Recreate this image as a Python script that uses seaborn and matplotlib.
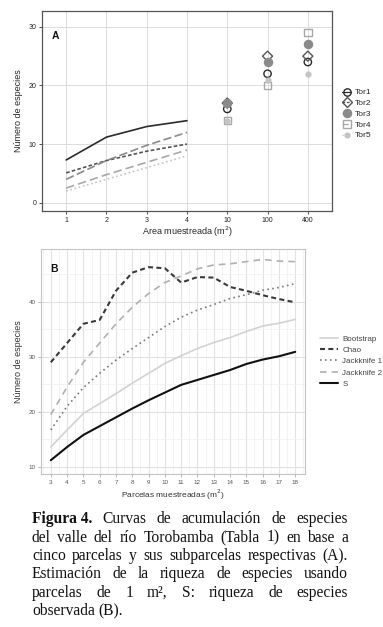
import numpy as np
import pandas as pd
import matplotlib
matplotlib.use('Agg')
import matplotlib.pyplot as plt
import seaborn as sns
from matplotlib.lines import Line2D

sns.set_style('white')
plt.rcParams['font.family'] = ['Liberation Sans', 'DejaVu Sans']

# ---- panel A data: species vs sampled area ----
area_labels = ['1', '2', '3', '4', '10', '100', '400']
parcelas = ['Tor1', 'Tor2', 'Tor3', 'Tor4', 'Tor5']
tor1 = [7.3, 11.2, 13.0, 14.0, 16, 22, 24]
tor2 = [5.1, 7.2, 8.8, 10.0, 17, 25, 25]
tor3 = [4.0, 7.2, 9.8, 12.0, 17, 24, 27]
tor4 = [2.5, 4.8, 6.9, 9.0, 14, 20, 29]
tor5 = [2.0, 4.0, 6.0, 8.0, 14, 21, 22]

# ---- panel B data: estimators vs number of plots ----
n_parcelas = list(range(3, 19))
estimadores = ['Bootstrap', 'Chao', 'Jackknife 1', 'Jackknife 2', 'S']
bootstrap = [13.6, 16.7, 19.7, 21.5, 23.3, 25.2, 27.0, 28.8, 30.2, 31.5, 32.6, 33.5, 34.6, 35.6, 36.1, 36.8]
chao = [29.0, 32.5, 36.0, 36.7, 42.0, 45.3, 46.3, 46.1, 43.5, 44.5, 44.4, 42.7, 42.0, 41.2, 40.5, 39.9]
jack1 = [16.7, 21.0, 24.4, 27.0, 29.4, 31.5, 33.5, 35.5, 37.2, 38.5, 39.5, 40.6, 41.3, 42.1, 42.6, 43.3]
jack2 = [19.5, 24.5, 29.0, 32.5, 36.0, 39.0, 41.5, 43.5, 44.7, 46.0, 46.7, 46.9, 47.3, 47.7, 47.4, 47.3]
s_obs = [11.2, 13.6, 15.8, 17.4, 19.0, 20.6, 22.1, 23.5, 24.9, 25.8, 26.7, 27.6, 28.7, 29.5, 30.1, 30.9]

caption_lines = [
    [('Figura 4.', True), ('Curvas', False), ('de', False), ('acumulación', False), ('de', False), ('especies', False)],
    [(w, False) for w in 'del valle del río Torobamba (Tabla 1) en base a'.split()],
    [(w, False) for w in 'cinco parcelas y sus subparcelas respectivas (A).'.split()],
    [(w, False) for w in 'Estimación de la riqueza de especies usando'.split()],
    [(w, False) for w in 'parcelas de 1 m², S: riqueza de especies'.split()],
    [(w, False) for w in 'observada (B).'.split()],
]

W, H = 383, 627
fig = plt.figure(figsize=(W / 100, H / 100), dpi=100)

def px_axes(left, top, right, bottom):
    return fig.add_axes([left / W, 1 - bottom / H, (right - left) / W, (bottom - top) / H])

# ================= panel A =================
axA = px_axes(42, 11, 332, 211)
dfA = pd.DataFrame({
    'area': area_labels * len(parcelas),
    'parcela': np.repeat(parcelas, len(area_labels)),
    'especies': tor1 + tor2 + tor3 + tor4 + tor5,
})
dfA['pos'] = dfA['area'].map({a: i + 1 for i, a in enumerate(area_labels)})

col_A = {'Tor1': '#2b2b2b', 'Tor2': '#555555', 'Tor3': '#8a8a8a', 'Tor4': '#a8a8a8', 'Tor5': '#c4c4c4'}
dash_A = {'Tor1': '', 'Tor2': (2.2, 1.3), 'Tor3': (5, 2), 'Tor4': (5, 2.5), 'Tor5': (1, 1.6)}
lines_A = dfA[dfA['area'].isin(area_labels[:4])]
sns.lineplot(data=lines_A, x='pos', y='especies', hue='parcela', style='parcela',
             palette=col_A, dashes=dash_A, linewidth=1.2, legend=False, ax=axA)

mk_A = {'Tor1': ('o', False, 28), 'Tor2': ('D', False, 26), 'Tor3': ('o', True, 34),
        'Tor4': ('s', False, 28), 'Tor5': ('o', True, 12)}
pts_A = dfA[~dfA['area'].isin(area_labels[:4])]
for p in parcelas:
    m, filled, size = mk_A[p]
    sns.scatterplot(data=pts_A[pts_A['parcela'] == p], x='pos', y='especies', marker=m,
                    s=size, color=col_A[p], linewidth=1.0, ax=axA, legend=False)
    coll = axA.collections[-1]
    if filled:
        coll.set_facecolor(col_A[p])
        coll.set_edgecolor(col_A[p])
    else:
        coll.set_facecolor('none')
        coll.set_edgecolor(col_A[p])

axA.set_xlim(0.4, 7.6)
axA.set_ylim(-1.4, 32.7)
axA.set_xticks(range(1, len(area_labels) + 1))
axA.set_xticklabels(area_labels)
axA.set_yticks([0, 10, 20, 30])
axA.grid(True, color='#dcdcdc', linewidth=0.7)
axA.set_axisbelow(True)
for sp in axA.spines.values():
    sp.set_color('#555555')
    sp.set_linewidth(0.9)
axA.tick_params(axis='both', length=2, width=0.6, color='#333333', labelsize=5,
                labelcolor='#222222', pad=2, direction='out', bottom=True, left=True)
axA.set_xlabel('Area muestreada (m$^2$)', fontsize=6.5, labelpad=1)
axA.set_ylabel('Número de especies', fontsize=6.5, labelpad=4)
axA.text(0.033, 0.86, 'A', transform=axA.transAxes, fontsize=7.5, fontweight='bold', color='#111111')

hA = []
for p in parcelas:
    m, filled, size = mk_A[p]
    ls = '-' if dash_A[p] == '' else (0, dash_A[p])
    hA.append(Line2D([], [], color=col_A[p], linestyle=ls, linewidth=0.9, marker=m,
                     markersize=np.sqrt(size), markerfacecolor=col_A[p] if filled else 'none',
                     markeredgecolor=col_A[p]))
axA.legend(hA, parcelas, loc='center left', bbox_to_anchor=(1.015, 0.485), frameon=False,
           fontsize=6, handlelength=1.1, handletextpad=0.4, labelspacing=0.35, borderpad=0.2)

# ================= panel B =================
axB = px_axes(41, 249, 305, 474)
dfB = pd.DataFrame({
    'parcelas': n_parcelas * len(estimadores),
    'estimador': np.repeat(estimadores, len(n_parcelas)),
    'especies': bootstrap + chao + jack1 + jack2 + s_obs,
})
col_B = {'Bootstrap': '#d2d2d2', 'Chao': '#3a3a3a', 'Jackknife 1': '#7a7a7a',
         'Jackknife 2': '#b0b0b0', 'S': '#111111'}
dash_B = {'Bootstrap': '', 'Chao': (2.4, 1.6), 'Jackknife 1': (1, 2), 'Jackknife 2': (4, 3), 'S': ''}
lw_B = {'Bootstrap': 1.2, 'Chao': 1.5, 'Jackknife 1': 1.2, 'Jackknife 2': 1.2, 'S': 1.5}
sns.lineplot(data=dfB, x='parcelas', y='especies', hue='estimador', style='estimador',
             palette=col_B, dashes=dash_B, linewidth=1.3, legend=False, ax=axB)
for ln, e in zip(axB.lines, estimadores):
    ln.set_linewidth(lw_B[e])

axB.set_xlim(2.4, 18.6)
axB.set_ylim(8.7, 49.6)
axB.set_xticks(n_parcelas)
axB.set_yticks([10, 20, 30, 40])
axB.set_xticks(np.arange(2.5, 19, 1), minor=True)
axB.set_yticks([15, 25, 35, 45], minor=True)
axB.grid(True, which='major', color='#e2e2e2', linewidth=0.8)
axB.grid(True, which='minor', color='#efefef', linewidth=0.5)
axB.set_axisbelow(True)
for sp in axB.spines.values():
    sp.set_color('#c4c4c4')
    sp.set_linewidth(0.8)
axB.tick_params(axis='both', which='major', length=2, width=0.5, color='#9a9a9a', labelsize=4.5,
                labelcolor='#555555', pad=2, bottom=True, left=True)
axB.tick_params(which='minor', length=0)
axB.set_xlabel('Parcelas muestreadas (m$^2$)', fontsize=6, color='#333333', labelpad=2)
axB.set_ylabel('Número de especies', fontsize=6.5, color='#333333', labelpad=4)
axB.text(0.035, 0.9, 'B', transform=axB.transAxes, fontsize=7.5, fontweight='bold', color='#111111')

hB = [Line2D([], [], color=col_B[e], linewidth=lw_B[e],
             linestyle='-' if dash_B[e] == '' else (0, dash_B[e])) for e in estimadores]
axB.legend(hB, estimadores, loc='center left', bbox_to_anchor=(1.035, 0.5), frameon=False,
           fontsize=5.8, labelcolor='#444444', handlelength=2.2, handletextpad=0.6,
           labelspacing=0.45, borderpad=0.2)

# ================= caption (justified) =================
renderer = fig.canvas.get_renderer()
cap_fs = 11.2
x0, x1 = 32, 348
cap_y = [523, 541.5, 560, 578.5, 597, 615]
for i, line in enumerate(caption_lines):
    texts = []
    for w, bold in line:
        t = fig.text(0, 1 - cap_y[i] / H, w, fontsize=cap_fs, family='Liberation Serif',
                     fontweight='bold' if bold else 'normal', va='baseline', color='#111111')
        texts.append(t)
    widths = [t.get_window_extent(renderer).width for t in texts]
    if i < len(caption_lines) - 1:
        gap = (x1 - x0 - sum(widths)) / (len(texts) - 1)
    else:
        gap = cap_fs * 100 / 72 * 0.25
    x = x0
    for t, w in zip(texts, widths):
        t.set_x(x / W)
        x += w + gap

fig.savefig('out.png', dpi=100)
